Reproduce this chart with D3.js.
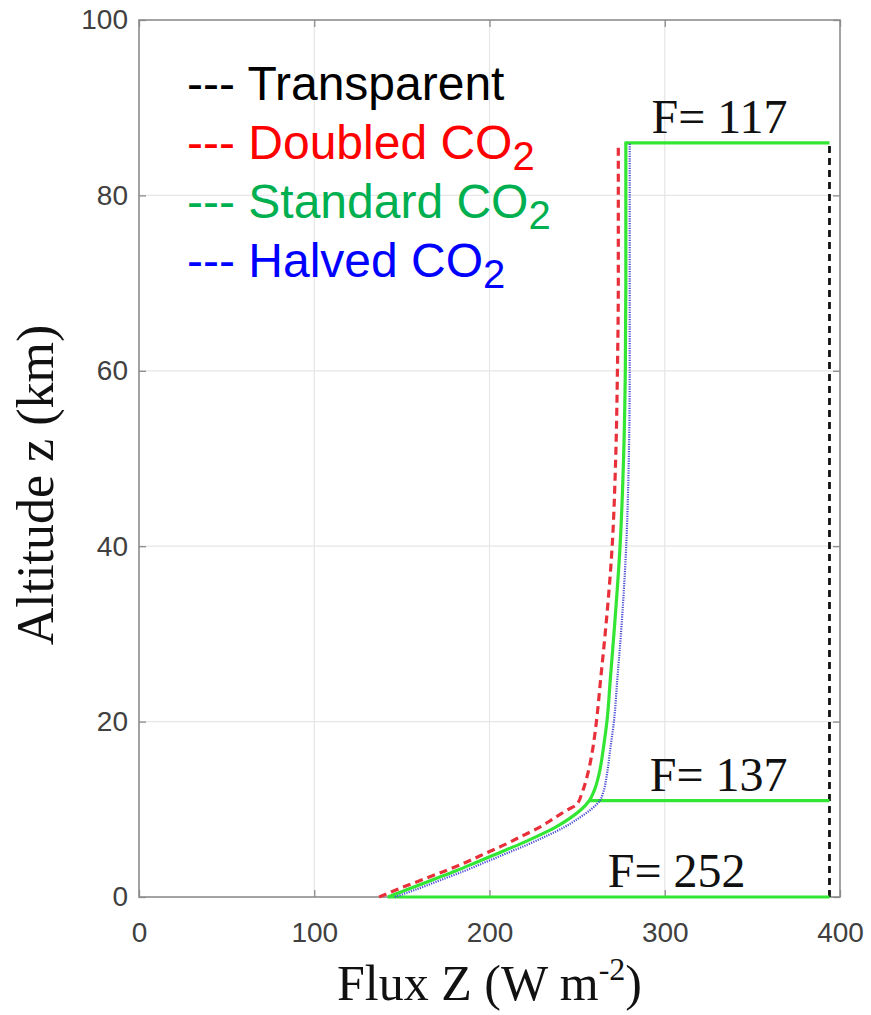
<!DOCTYPE html>
<html>
<head>
<meta charset="utf-8">
<script src="https://cdn.jsdelivr.net/npm/d3@7"></script>
<style>
  body { margin: 0; background: #fff; }
  svg { display: block; }
</style>
</head>
<body>
<svg id="chart" width="871" height="1015"></svg>
<script>
// altitude (km) vs upward flux (W m-2)
var stdAlt = [0, 1, 2, 3, 4, 5, 6, 7, 8, 9, 10, 11, 12, 14, 17, 20, 25, 30, 40, 50, 60, 70, 86];
var stdFlux = [142, 155, 168, 181, 193, 205, 217, 228, 238, 246, 252.5, 257, 259.5, 262.5, 265, 267, 269, 271, 274.5, 276.5, 277.5, 277.8, 277.8];

var dblAlt = [0, 1, 2, 3, 4, 5, 6, 7, 8, 9, 10, 10.5, 12, 14, 17, 20, 25, 30, 40, 50, 60, 70, 86];
var dblFlux = [137, 149, 162, 175, 187, 198, 209, 219, 229, 237, 245, 249.5, 253, 256, 259, 261, 263.5, 266, 270, 272, 273, 273.5, 273.5];

var halfAlt = [0, 1, 2, 3, 4, 5, 6, 7, 8, 9, 10, 11, 12, 14, 17, 20, 25, 30, 40, 50, 60, 70, 86];
var halfFlux = [146, 160, 173, 186, 198, 210, 222, 233, 243, 251, 258, 263, 265, 267, 269, 271, 273, 275, 278, 279.5, 280, 280, 280];

var transAlt = [0, 86];
var transFlux = [394, 394];

// green flux levels: altitude and where the line starts
var levelAlt = [86, 11, 0];
var levelFrom = [277, 257, 142];
var levelLabelX = [292.5, 291.5, 267.5];

var xTicks = [0, 100, 200, 300, 400];
var yTicks = [0, 20, 40, 60, 80, 100];

var legendNames = ["Transparent", "Doubled CO", "Standard CO", "Halved CO"];
var legendSub = ["", "2", "2", "2"];
var legendColors = ["#000000", "#ff0000", "#00b050", "#0000ff"];

var svg = d3.select("#chart");
var margin = {top: 20, right: 31, bottom: 118, left: 139};
var W = 871, H = 1015;

var x = d3.scaleLinear().domain([0, 400]).range([margin.left, W - margin.right]);
var y = d3.scaleLinear().domain([0, 100]).range([H - margin.bottom, margin.top]);

// grid
svg.append("g").selectAll("line.gx")
    .data(xTicks.slice(1, -1)).enter().append("line")
    .attr("x1", function(d) { return x(d); }).attr("x2", function(d) { return x(d); })
    .attr("y1", y(0)).attr("y2", y(100))
    .attr("stroke", "#e6e6e6").attr("stroke-width", 1.2);
svg.append("g").selectAll("line.gy")
    .data(yTicks.slice(1, -1)).enter().append("line")
    .attr("y1", function(d) { return y(d); }).attr("y2", function(d) { return y(d); })
    .attr("x1", x(0)).attr("x2", x(400))
    .attr("stroke", "#e6e6e6").attr("stroke-width", 1.2);

// axes
var xAxis = svg.append("g")
    .attr("transform", "translate(0," + y(0) + ")")
    .call(d3.axisBottom(x).tickValues(xTicks).tickSize(-7).tickPadding(25));
var yAxis = svg.append("g")
    .attr("transform", "translate(" + x(0) + ",0)")
    .call(d3.axisLeft(y).tickValues(yTicks).tickSize(-7).tickPadding(11));
svg.append("g")
    .attr("transform", "translate(0," + y(100) + ")")
    .call(d3.axisTop(x).tickValues(xTicks).tickSize(-7).tickFormat(""));
svg.append("g")
    .attr("transform", "translate(" + x(400) + ",0)")
    .call(d3.axisRight(y).tickValues(yTicks).tickSize(-7).tickFormat(""));

svg.selectAll(".domain").remove();
svg.selectAll(".tick line").attr("stroke", "#8c8c8c").attr("stroke-width", 1.3);
[xAxis, yAxis].forEach(function(a) {
    a.selectAll("text")
        .attr("font-family", "'Liberation Sans', Arial, sans-serif")
        .attr("font-size", 28)
        .attr("fill", "#404040");
});

svg.append("rect")
    .attr("x", x(0)).attr("y", y(100))
    .attr("width", x(400) - x(0)).attr("height", y(0) - y(100))
    .attr("fill", "none").attr("stroke", "#8c8c8c").attr("stroke-width", 1.6);

// curves
var line = d3.line()
    .x(function(d) { return x(d[0]); })
    .y(function(d) { return y(d[1]); })
    .curve(d3.curveMonotoneY);

function pairs(flux, alt) {
    return flux.map(function(f, i) { return [f, alt[i]]; });
}

svg.append("path")
    .datum(pairs(transFlux, transAlt))
    .attr("d", line)
    .attr("fill", "none").attr("stroke", "#111").attr("stroke-width", 2.8)
    .attr("stroke-dasharray", "7,5");

svg.append("g").selectAll("line.level")
    .data(levelAlt).enter().append("line")
    .attr("x1", function(d, i) { return x(levelFrom[i]); })
    .attr("x2", x(transFlux[0]))
    .attr("y1", function(d) { return y(d); })
    .attr("y2", function(d) { return y(d); })
    .attr("stroke", "#33e633").attr("stroke-width", 3.2);

svg.append("path")
    .datum(pairs(stdFlux, stdAlt))
    .attr("d", line)
    .attr("fill", "none").attr("stroke", "#33e633").attr("stroke-width", 3.2);

svg.append("path")
    .datum(pairs(dblFlux, dblAlt))
    .attr("d", line)
    .attr("fill", "none").attr("stroke", "#e8303a").attr("stroke-width", 3.2)
    .attr("stroke-dasharray", "8,5");

svg.append("path")
    .datum(pairs(halfFlux, halfAlt))
    .attr("d", line)
    .attr("fill", "none").attr("stroke", "#4a4ad8").attr("stroke-width", 2.2)
    .attr("stroke-dasharray", "1.2,1.2");

// flux labels
svg.append("g").selectAll("text.flab")
    .data(levelAlt).enter().append("text")
    .attr("x", function(d, i) { return x(levelLabelX[i]); })
    .attr("y", function(d) { return y(d) - 10; })
    .attr("font-family", "'Liberation Serif', 'Times New Roman', serif")
    .attr("font-size", 48)
    .attr("fill", "#111")
    .text(function(d, i) { return "F= " + (transFlux[0] - levelFrom[i]); });

// legend
var leg = svg.append("g").selectAll("text.leg")
    .data(legendNames).enter().append("text")
    .attr("x", 187)
    .attr("y", function(d, i) { return 100 + i * 59; })
    .attr("font-family", "'Liberation Sans', Arial, sans-serif")
    .attr("font-size", 48)
    .attr("fill", function(d, i) { return legendColors[i]; });
leg.append("tspan").text(function(d) { return "--- " + d; });
leg.append("tspan")
    .attr("font-size", 40)
    .attr("dy", 11)
    .text(function(d, i) { return legendSub[i]; });

// axis titles
var title = svg.append("text")
    .attr("x", (x(0) + x(400)) / 2)
    .attr("y", 1000)
    .attr("text-anchor", "middle")
    .attr("font-family", "'Liberation Serif', 'Times New Roman', serif")
    .attr("font-size", 50)
    .attr("fill", "#111");
title.append("tspan").text("Flux Z (W m");
title.append("tspan").attr("font-size", 32).attr("dy", -20).text("-2");
title.append("tspan").attr("dy", 20).text(")");

svg.append("text")
    .attr("transform", "translate(53,485) rotate(-90)")
    .attr("text-anchor", "middle")
    .attr("font-family", "'Liberation Serif', 'Times New Roman', serif")
    .attr("font-size", 52)
    .attr("fill", "#111")
    .text("Altitude z (km)");
</script>
</body>
</html>
